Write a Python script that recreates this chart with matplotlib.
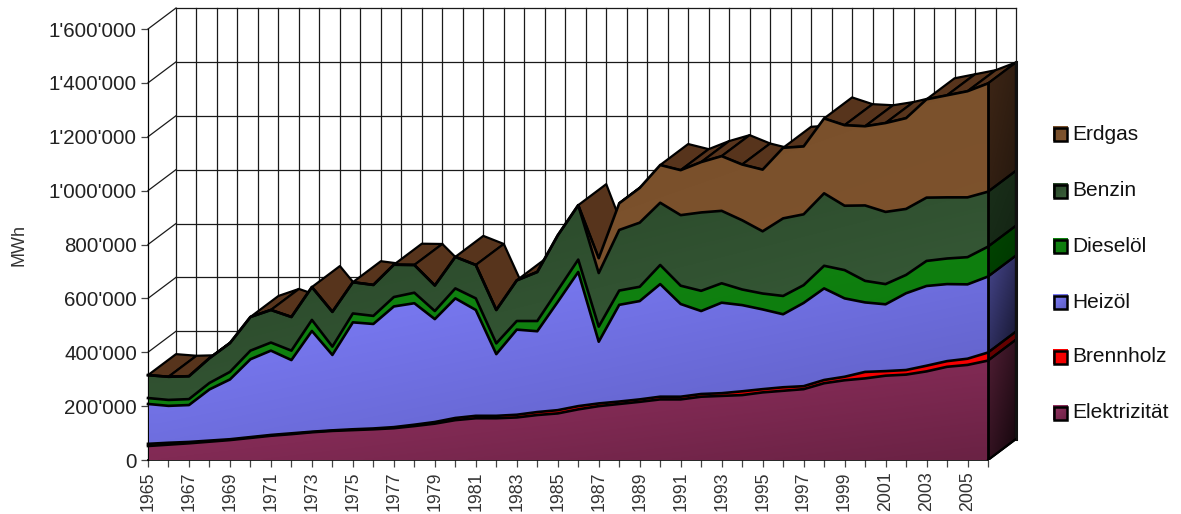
import numpy as np
import matplotlib
matplotlib.use('Agg')
import matplotlib.pyplot as plt
from matplotlib.patches import Polygon, Rectangle
from matplotlib.ticker import FuncFormatter

plt.rcParams['font.family'] = ['Liberation Sans', 'DejaVu Sans']

years = list(range(1965, 2007))

# thousand MWh per year
elektrizitaet = [52, 57, 62, 68, 74, 82, 90, 96, 103, 108, 111, 114, 118, 126, 135, 148, 155, 155, 158, 167, 173,
                 188, 200, 208, 216, 225, 225, 235, 238, 241, 251, 257, 263, 285, 296, 303, 313, 317, 329, 346, 353, 369]
brennholz = [8, 7, 5, 4, 3, 3, 3, 3, 2, 2, 3, 3, 4, 5, 6, 8, 9, 9, 10, 11, 12,
             12, 10, 9, 9, 10, 10, 10, 10, 14, 12, 13, 11, 12, 13, 24, 17, 17, 21, 21, 23, 30]
heizoel = [148, 137, 137, 190, 222, 289, 313, 272, 374, 280, 397, 388, 448, 451, 382, 444, 393, 229, 316, 300, 402,
           498, 229, 359, 365, 418, 344, 308, 336, 320, 296, 271, 309, 340, 291, 258, 248, 285, 296, 286, 276, 282]
dieseloel = [22, 22, 22, 24, 28, 32, 30, 35, 41, 31, 33, 30, 35, 39, 30, 37, 43, 40, 32, 38, 43,
             46, 56, 53, 53, 71, 68, 75, 72, 58, 59, 68, 66, 84, 105, 80, 75, 68, 93, 95, 101, 111]
benzin = [85, 86, 85, 92, 107, 125, 121, 125, 122, 129, 116, 115, 120, 103, 95, 117, 124, 124, 151, 182, 204,
          202, 199, 225, 238, 231, 262, 291, 269, 257, 231, 288, 263, 269, 239, 280, 268, 245, 235, 227, 222, 204]
erdgas = [0, 0, 0, 0, 0, 0, 0, 0, 0, 0, 0, 0, 0, 0, 0, 0, 0, 0, 0, 0, 0,
          0, 55, 99, 129, 140, 167, 187, 203, 207, 229, 262, 252, 278, 299, 294, 330, 337, 365, 379, 394, 402]

names = ['Elektrizität', 'Brennholz', 'Heizöl', 'Dieselöl', 'Benzin', 'Erdgas']
series = [elektrizitaet, brennholz, heizoel, dieseloel, benzin, erdgas]

# front face light/dark, side face light/dark
front_cols = [((152, 50, 100), (106, 34, 68)), ((252, 0, 0), (240, 0, 0)), ((128, 128, 255), (92, 92, 190)),
              ((16, 135, 16), (14, 120, 14)), ((38, 68, 38), (60, 96, 60)), ((118, 78, 42), (128, 84, 46))]
side_cols = [((80, 30, 52), (20, 6, 12)), ((112, 0, 0), (90, 0, 0)), ((70, 70, 140), (22, 22, 48)),
             ((0, 70, 0), (0, 55, 0)), ((26, 48, 26), (20, 36, 20)), ((62, 38, 22), (38, 24, 14))]
top_col = '#57341c'

W, H = 1181, 514
fig = plt.figure(figsize=(W / 100, H / 100), dpi=100)

# plot area reaches from the front floor corner to the back top corner
ax = fig.add_axes([148 / W, 1 - 460 / H, (1016 - 148) / W, (460 - 8) / H])
ax.set_autoscale_on(False)
depth_x = 28 / (840 / 41)
depth_y = 21 * 1600000 / 431
ymax = 1600000
ax.set_xlim(1965, 2006 + depth_x)
ax.set_ylim(0, ymax + depth_y)
ax.patch.set_visible(False)


def gradient(c0, c1, box, clip, z):
    u = np.linspace(0, 1, 40)
    a, b = np.meshgrid(u, u)
    t = ((a + b) / 2)[:, :, None]
    img = (np.array(c0) * (1 - t) + np.array(c1) * t) / 255
    im = ax.imshow(img, extent=box, origin='upper', aspect='auto', interpolation='bilinear', zorder=z)
    patch = Polygon(clip, closed=True, transform=ax.transData)
    im.set_clip_path(patch)
    im.set_clip_on(True)


# walls
line_kw = dict(color='#1a1a1a', lw=0.9, zorder=1, clip_on=False)
for yr in years:
    ax.plot([yr + depth_x] * 2, [depth_y, ymax + depth_y], **line_kw)
for v in range(0, ymax + 1, 200000):
    ax.plot([1965 + depth_x, 2006 + depth_x], [v + depth_y] * 2, **line_kw)
    ax.plot([1965, 1965 + depth_x], [v, v + depth_y], **line_kw)
ax.plot([2006, 2006 + depth_x], [0, depth_y], **line_kw)

x = np.array(years, dtype=float)
tops = np.cumsum(np.array(series, dtype=float) * 1000, axis=0)
total = tops[-1]

# top surface, only where it faces the viewer
for i in range(len(x) - 1):
    if (total[i + 1] - total[i]) * depth_x < depth_y * (x[i + 1] - x[i]):
        quad = [(x[i], total[i]), (x[i + 1], total[i + 1]),
                (x[i + 1] + depth_x, total[i + 1] + depth_y), (x[i] + depth_x, total[i] + depth_y)]
        ax.add_patch(Polygon(quad, closed=True, fc=top_col, ec='black', lw=1.6, joinstyle='round', zorder=2))

# front and side faces
bottom = np.zeros(len(x))
for k, name in enumerate(names):
    top = tops[k]
    if top[-1] > bottom[-1]:
        side = [(x[-1], bottom[-1]), (x[-1], top[-1]),
                (x[-1] + depth_x, top[-1] + depth_y), (x[-1] + depth_x, bottom[-1] + depth_y)]
        box = (x[-1], x[-1] + depth_x, bottom[-1], top[-1] + depth_y)
        gradient(side_cols[k][0], side_cols[k][1], box, side, 3)
        ax.add_patch(Polygon(side, closed=True, fc='none', ec='black', lw=1.6, joinstyle='round', zorder=3.5))

    front = list(zip(x, top)) + list(zip(x[::-1], bottom[::-1]))
    box = (x[0], x[-1], bottom.min(), top.max())
    gradient(front_cols[k][0], front_cols[k][1], box, front, 4)
    ax.plot(x, top, color='black', lw=1.9, zorder=5, solid_joinstyle='round', clip_on=False)
    bottom = top
ax.plot([x[0], x[0]], [0, total[0]], color='black', lw=1.4, zorder=5)
ax.plot([x[-1], x[-1]], [0, total[-1]], color='black', lw=2.0, zorder=5)
ax.plot([x[-1] + depth_x] * 2, [depth_y, total[-1] + depth_y], color='#111111', lw=2.2, zorder=5, clip_on=False)
ax.plot([x[-1], x[-1] + depth_x], [0, depth_y], color='black', lw=1.4, zorder=5)

# axes
for s in ['top', 'right']:
    ax.spines[s].set_visible(False)
ax.spines['left'].set_bounds(0, ymax)
ax.spines['bottom'].set_bounds(1965, 2006)
ax.spines['left'].set_linewidth(0.9)
ax.spines['bottom'].set_linewidth(1.2)
ax.set_yticks(range(0, ymax + 1, 200000))
ax.yaxis.set_major_formatter(FuncFormatter(lambda v, p: f'{int(v):,}'.replace(',', "'")))
ax.tick_params(axis='y', length=5, width=0.9, color='#444444', labelsize=14.8, pad=3, labelcolor='#222222')
ax.set_xticks(years)
ax.set_xticklabels([str(y) if (y - 1965) % 2 == 0 else '' for y in years], rotation=90, fontsize=12.8)
ax.tick_params(axis='x', length=5, width=0.9, color='#444444', pad=3, labelcolor='#333333')

fig.text(19 / W, 1 - 245 / H, 'MWh', rotation=90, ha='center', va='center', fontsize=13, color='#333333')

# legend
lax = fig.add_axes([0, 0, 1, 1], zorder=5)
lax.set_axis_off()
lax.set_autoscale_on(False)
lax.set_xlim(0, W)
lax.set_ylim(H, 0)
legend_y = [413, 357, 302, 246, 191, 134]
for k, name in enumerate(names):
    ly = legend_y[k]
    u = np.linspace(0, 1, 16)
    a, b = np.meshgrid(u, u)
    t = ((a + b) / 2)[:, :, None]
    img = (np.array(front_cols[k][0]) * (1 - t) + np.array(front_cols[k][1]) * t) / 255
    lax.imshow(img, extent=(1053, 1068, ly + 7.5, ly - 7.5), aspect='auto', zorder=1)
    lax.add_patch(Rectangle((1054, ly - 6.5), 13, 13, fc='none', ec='black', lw=1.8, zorder=2))
    lax.text(1072, ly, name, fontsize=15, va='center', ha='left', color='#111111')

fig.savefig('out.png', dpi=100)
